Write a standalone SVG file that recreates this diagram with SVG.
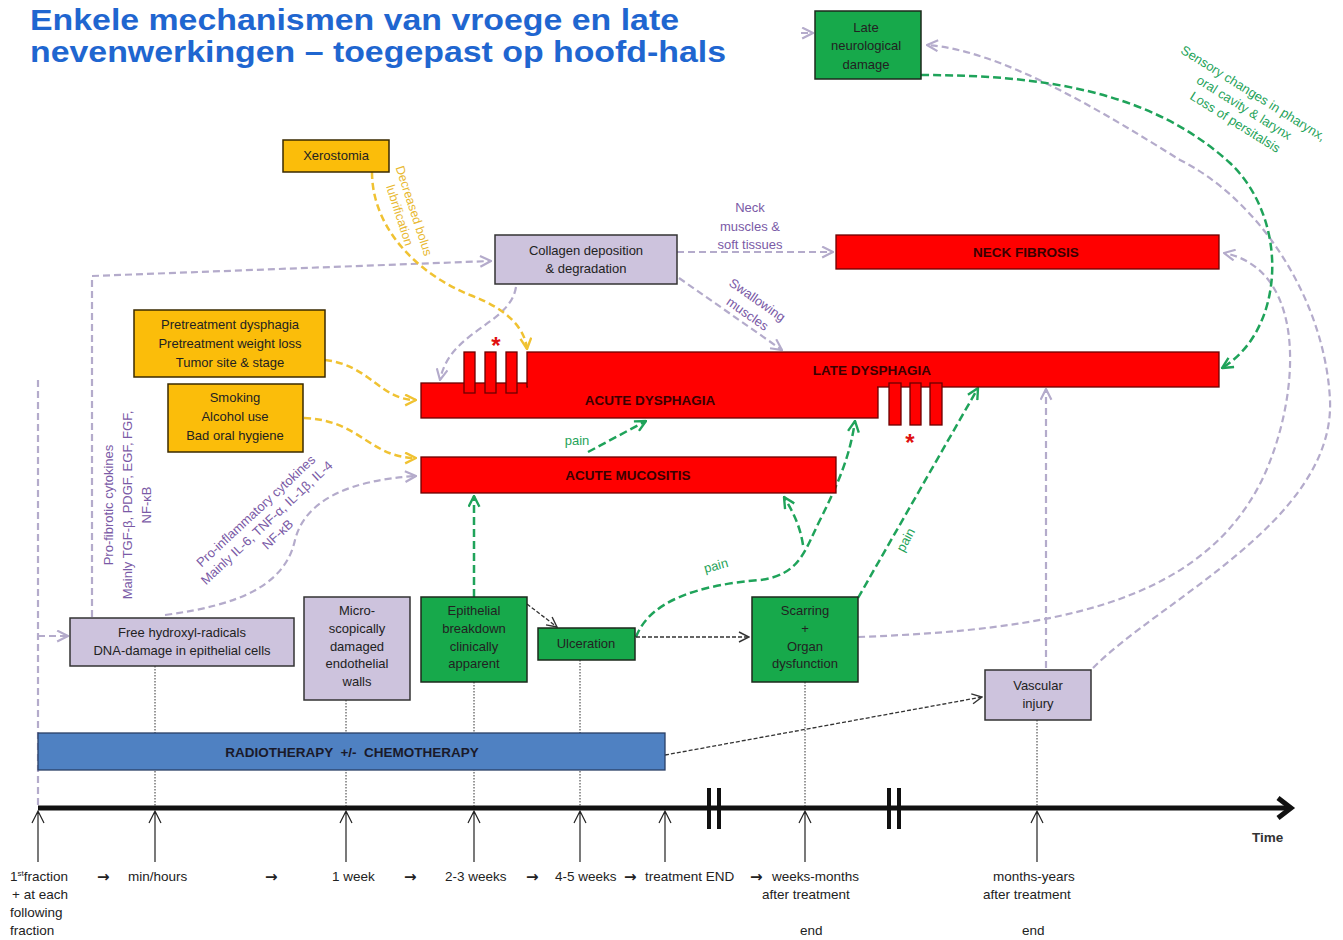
<svg xmlns="http://www.w3.org/2000/svg" width="1343" height="940" viewBox="0 0 1343 940">
<defs>
<style>
.t{font-family:"Liberation Sans",Arial,sans-serif;font-size:13px;fill:#222;text-anchor:middle}
.ax{font-family:"Liberation Sans",Arial,sans-serif;font-size:13.5px;fill:#222}
.arr{font-family:"DejaVu Sans",sans-serif;font-size:15px;font-weight:bold;fill:#222}
.bar{font-family:"Liberation Sans",Arial,sans-serif;font-size:13.5px;font-weight:bold;fill:#3a0000;text-anchor:middle}
.pu{font-family:"Liberation Sans",Arial,sans-serif;font-size:13px;fill:#7a5aa6;text-anchor:middle}
.gt{font-family:"Liberation Sans",Arial,sans-serif;font-size:13px;fill:#1fa35a;text-anchor:middle}
.yt{font-family:"Liberation Sans",Arial,sans-serif;font-size:12.5px;fill:#e8b830;text-anchor:middle}
.lav{fill:#cdc3dd;stroke:#333;stroke-width:1.5}
.grn{fill:#17a94b;stroke:#1c2a1c;stroke-width:1.5}
.org{fill:#fbbd0a;stroke:#3a2a00;stroke-width:1.5}
.red{fill:#ff0000;stroke:#6a0000;stroke-width:1.3}
.cg{fill:none;stroke:#b4abcb;stroke-width:2.2;stroke-dasharray:7 4}
.cgr{fill:none;stroke:#1fa35a;stroke-width:2.5;stroke-dasharray:8 4}
.cy{fill:none;stroke:#f0c232;stroke-width:2.5;stroke-dasharray:7 4}
.cd{fill:none;stroke:#333;stroke-width:1.3;stroke-dasharray:4 2}
.dot{fill:none;stroke:#333;stroke-width:1;stroke-dasharray:1.5 1.5}
.up{fill:none;stroke:#222;stroke-width:1.2}
.ast{font-family:"Liberation Sans",Arial,sans-serif;font-size:24px;font-weight:bold;fill:#e01010;text-anchor:middle}
</style>
<marker id="mg" viewBox="0 0 12 12" refX="11" refY="6" markerWidth="13" markerHeight="13" orient="auto" markerUnits="userSpaceOnUse"><path d="M1,1 L11,6 L1,11" fill="none" stroke="#b4abcb" stroke-width="2"/></marker>
<marker id="mgr" viewBox="0 0 12 12" refX="11" refY="6" markerWidth="13" markerHeight="13" orient="auto" markerUnits="userSpaceOnUse"><path d="M1,1 L11,6 L1,11" fill="none" stroke="#1fa35a" stroke-width="2.2"/></marker>
<marker id="my" viewBox="0 0 12 12" refX="11" refY="6" markerWidth="13" markerHeight="13" orient="auto" markerUnits="userSpaceOnUse"><path d="M1,1 L11,6 L1,11" fill="none" stroke="#f0c232" stroke-width="2.2"/></marker>
<marker id="md" viewBox="0 0 12 12" refX="11" refY="6" markerWidth="12" markerHeight="12" orient="auto" markerUnits="userSpaceOnUse"><path d="M1,1 L11,6 L1,11" fill="none" stroke="#333" stroke-width="1.4"/></marker>
</defs>
<rect width="1343" height="940" fill="#ffffff"/>

<!-- title -->
<g id="title" font-family="Liberation Sans, Arial, sans-serif" font-size="29" font-weight="bold" fill="#1f66d0">
<text x="30" y="29.5" textLength="649" lengthAdjust="spacingAndGlyphs">Enkele mechanismen van vroege en late</text>
<text x="30" y="62" textLength="696" lengthAdjust="spacingAndGlyphs">nevenwerkingen – toegepast op hoofd-hals</text>
</g>

<!-- time axis -->
<g id="axis">
<line x1="38" y1="808" x2="1288" y2="808" stroke="#111" stroke-width="5"/>
<path d="M1278,798 L1291,808 L1278,818" fill="none" stroke="#111" stroke-width="5"/>
<g stroke="#111" stroke-width="4">
<line x1="709" y1="788" x2="709" y2="829"/><line x1="719" y1="788" x2="719" y2="829"/>
<line x1="889" y1="788" x2="889" y2="829"/><line x1="899" y1="788" x2="899" y2="829"/>
</g>
<g class="up">
<path d="M38,862 V811 M32,823 L38,811 L44,823"/>
<path d="M155,862 V811 M149,823 L155,811 L161,823"/>
<path d="M346,862 V811 M340,823 L346,811 L352,823"/>
<path d="M474,862 V811 M468,823 L474,811 L480,823"/>
<path d="M580,862 V811 M574,823 L580,811 L586,823"/>
<path d="M665,862 V811 M659,823 L665,811 L671,823"/>
<path d="M805,862 V811 M799,823 L805,811 L811,823"/>
<path d="M1037,862 V811 M1031,823 L1037,811 L1043,823"/>
</g>
<text class="ax" x="1252" y="842" font-size="15.5" font-weight="bold" style="fill:#333">Time</text>
<text class="ax" x="10" y="881">1<tspan font-size="8" dy="-5">st</tspan><tspan dy="5">fraction</tspan></text>
<text class="ax" x="12" y="899">+ at each</text>
<text class="ax" x="10" y="917">following</text>
<text class="ax" x="10" y="935">fraction</text>
<text class="arr" x="97" y="882">→</text>
<text class="ax" x="128" y="881">min/hours</text>
<text class="arr" x="265" y="882">→</text>
<text class="ax" x="332" y="881">1 week</text>
<text class="arr" x="404" y="882">→</text>
<text class="ax" x="445" y="881">2-3 weeks</text>
<text class="arr" x="526" y="882">→</text>
<text class="ax" x="555" y="881">4-5 weeks</text>
<text class="arr" x="624" y="882">→</text>
<text class="ax" x="645" y="881">treatment END</text>
<text class="arr" x="750" y="882">→</text>
<text class="ax" x="772" y="881">weeks-months</text>
<text class="ax" x="762" y="899">after treatment</text>
<text class="ax" x="800" y="935">end</text>
<text class="ax" x="993" y="881">months-years</text>
<text class="ax" x="983" y="899">after treatment</text>
<text class="ax" x="1022" y="935">end</text>
</g>

<!-- dotted drop lines from nodes to the time axis -->
<g id="droplines" class="dot">
<line x1="155" y1="666" x2="155" y2="806"/>
<line x1="346" y1="700" x2="346" y2="806"/>
<line x1="474" y1="682" x2="474" y2="806"/>
<line x1="580" y1="660" x2="580" y2="806"/>
<line x1="805" y1="682" x2="805" y2="806"/>
<line x1="1037" y1="720" x2="1037" y2="806"/>
</g>

<!-- connectors -->
<g id="connectors">
<!-- lavender-gray -->
<path class="cg" d="M38,380 V806"/>
<path class="cg" d="M38,636 H68" marker-end="url(#mg)"/>
<path class="cg" d="M92,617 V276 L491,261" marker-end="url(#mg)"/>
<path class="cg" d="M165,615 C240,605 285,585 295,540 C305,500 350,480 416,476" marker-end="url(#mg)"/>
<path class="cg" d="M677,252 H833" marker-end="url(#mg)"/>
<path class="cg" d="M679,278 L782,350" marker-end="url(#mg)"/>
<path class="cg" d="M516,287 C510,325 450,330 440,380" marker-end="url(#mg)"/>
<path class="cg" d="M1046,668 V389" marker-end="url(#mg)"/>
<path class="cg" d="M858,637 C1050,630 1200,605 1262,480 C1300,400 1310,270 1224,253" marker-end="url(#mg)"/>
<path class="cg" d="M1093,668 C1160,600 1335,520 1330,400 C1325,300 1260,200 1180,160 C1100,110 1000,50 927,45" marker-end="url(#mg)"/>
<path class="cg" d="M801,33 H813" marker-end="url(#mg)" stroke-dasharray="none"/>
<!-- green -->
<path class="cgr" d="M921,75 C1040,75 1150,90 1230,163 C1290,220 1285,330 1222,368" marker-end="url(#mgr)"/>
<path class="cgr" d="M588,452 L646,421" marker-end="url(#mgr)"/>
<path class="cgr" d="M474,597 V496" marker-end="url(#mgr)"/>
<path class="cgr" d="M636,637 C650,600 700,585 760,580 C800,575 805,550 820,520 C840,480 850,455 855,421" marker-end="url(#mgr)"/>
<path class="cgr" d="M803,545 C800,525 792,510 784,497" marker-end="url(#mgr)"/>
<path class="cgr" d="M858,598 L978,388" marker-end="url(#mgr)"/>
<!-- yellow -->
<path class="cy" d="M372,172 C372,230 420,275 470,295 C510,310 525,330 527,349" marker-end="url(#my)"/>
<path class="cy" d="M325,360 C370,365 380,400 416,400" marker-end="url(#my)"/>
<path class="cy" d="M304,418 C360,420 370,458 416,458" marker-end="url(#my)"/>
<!-- dark -->
<path class="cd" d="M527,604 L557,627" marker-end="url(#md)"/>
<path class="cd" d="M636,637 H749" marker-end="url(#md)"/>
<path class="cd" d="M665,755 L982,697" marker-end="url(#md)"/>
</g>

<!-- connector labels -->
<g id="labels">
<g transform="translate(410,212) rotate(72)">
<text class="yt" y="0">Decreased bolus</text>
<text class="yt" y="15">lubrification</text>
</g>
<text class="pu" x="750" y="212">Neck</text>
<text class="pu" x="750" y="231">muscles &amp;</text>
<text class="pu" x="750" y="249">soft tissues</text>
<g transform="translate(753,306) rotate(35)">
<text class="pu" y="-3">Swallowing</text>
<text class="pu" y="14">muscles</text>
</g>
<g transform="translate(1244,108) rotate(32)">
<text class="gt" y="-13" font-size="14">Sensory changes in pharynx,</text>
<text class="gt" y="4" font-size="14">oral cavity &amp; larynx</text>
<text class="gt" y="21" font-size="14">Loss of persitalsis</text>
</g>
<g transform="translate(127,505) rotate(-90)">
<text class="pu" y="-14">Pro-fibrotic cytokines</text>
<text class="pu" y="5">Mainly TGF-β, PDGF, EGF, FGF,</text>
<text class="pu" y="24">NF-κB</text>
</g>
<g transform="translate(267,523) rotate(-43)">
<text class="pu" y="-12">Pro-inflammatory cytokines</text>
<text class="pu" y="4">Mainly IL-6, TNF-α, IL-1β, IL-4</text>
<text class="pu" y="20">NF-κB</text>
</g>
<text class="gt" x="577" y="445" font-size="12">pain</text>
<text class="gt" x="716" y="570" font-size="12" transform="rotate(-15 716 566)">pain</text>
<text class="gt" x="906" y="544" font-size="12" transform="rotate(-62 906 540)">pain</text>
</g>

<!-- dysphagia bars -->
<g id="acute-dysphagia">
<rect class="red" x="421" y="383" width="457" height="35"/>
<text class="bar" x="650" y="405">ACUTE DYSPHAGIA</text>
</g>
<g id="late-dysphagia">
<rect class="red" x="527" y="352" width="692" height="35"/>
<rect x="528" y="382" width="349" height="10" fill="#ff0000"/>
<text class="bar" x="872" y="375">LATE DYSPHAGIA</text>
<rect class="red" x="464" y="352" width="11" height="41"/>
<rect class="red" x="485" y="352" width="11" height="41"/>
<rect class="red" x="506" y="352" width="11" height="41"/>
<rect class="red" x="889" y="383" width="12" height="42"/>
<rect class="red" x="910" y="383" width="11" height="42"/>
<rect class="red" x="930" y="383" width="12" height="42"/>
<text class="ast" x="496" y="354">*</text>
<text class="ast" x="910" y="451">*</text>
</g>
<g id="acute-mucositis">
<rect class="red" x="421" y="457" width="415" height="36"/>
<text class="bar" x="628" y="480">ACUTE MUCOSITIS</text>
</g>
<g id="neck-fibrosis">
<rect class="red" x="836" y="235" width="383" height="34"/>
<text class="bar" x="1026" y="257">NECK FIBROSIS</text>
</g>

<!-- nodes -->
<g id="late-neurological-damage">
<rect class="grn" x="815" y="11" width="106" height="68"/>
<text class="t" x="866" y="32">Late</text>
<text class="t" x="866" y="50">neurological</text>
<text class="t" x="866" y="69">damage</text>
</g>
<g id="xerostomia">
<rect class="org" x="283" y="140" width="106" height="32"/>
<text class="t" x="336" y="160">Xerostomia</text>
</g>
<g id="collagen">
<rect class="lav" x="495" y="235" width="182" height="49"/>
<text class="t" x="586" y="255">Collagen deposition</text>
<text class="t" x="586" y="273">&amp; degradation</text>
</g>
<g id="pretreatment">
<rect class="org" x="134" y="310" width="191" height="67"/>
<text class="t" x="230" y="329">Pretreatment dysphagia</text>
<text class="t" x="230" y="348">Pretreatment weight loss</text>
<text class="t" x="230" y="367">Tumor site &amp; stage</text>
</g>
<g id="lifestyle">
<rect class="org" x="168" y="384" width="135" height="68"/>
<text class="t" x="235" y="402">Smoking</text>
<text class="t" x="235" y="421">Alcohol use</text>
<text class="t" x="235" y="440">Bad oral hygiene</text>
</g>
<g id="free-radicals">
<rect class="lav" x="70" y="618" width="224" height="48"/>
<text class="t" x="182" y="637">Free hydroxyl-radicals</text>
<text class="t" x="182" y="655">DNA-damage in epithelial cells</text>
</g>
<g id="endothelial">
<rect class="lav" x="304" y="597" width="106" height="103"/>
<text class="t" x="357" y="615">Micro-</text>
<text class="t" x="357" y="633">scopically</text>
<text class="t" x="357" y="651">damaged</text>
<text class="t" x="357" y="668">endothelial</text>
<text class="t" x="357" y="686">walls</text>
</g>
<g id="epithelial-breakdown">
<rect class="grn" x="421" y="597" width="106" height="85"/>
<text class="t" x="474" y="615">Epithelial</text>
<text class="t" x="474" y="633">breakdown</text>
<text class="t" x="474" y="651">clinically</text>
<text class="t" x="474" y="668">apparent</text>
</g>
<g id="ulceration">
<rect class="grn" x="538" y="628" width="97" height="32"/>
<text class="t" x="586" y="648">Ulceration</text>
</g>
<g id="scarring">
<rect class="grn" x="752" y="597" width="106" height="85"/>
<text class="t" x="805" y="615">Scarring</text>
<text class="t" x="805" y="633">+</text>
<text class="t" x="805" y="651">Organ</text>
<text class="t" x="805" y="668">dysfunction</text>
</g>
<g id="vascular-injury">
<rect class="lav" x="985" y="670" width="106" height="50"/>
<text class="t" x="1038" y="690">Vascular</text>
<text class="t" x="1038" y="708">injury</text>
</g>
<g id="radiotherapy">
<rect x="38" y="733" width="627" height="37" fill="#4f81c2" stroke="#2a3f66" stroke-width="1.3"/>
<text class="bar" x="352" y="757" style="fill:#1a1a2a" font-size="14" xml:space="preserve">RADIOTHERAPY  +/-  CHEMOTHERAPY</text>
</g>
</svg>
